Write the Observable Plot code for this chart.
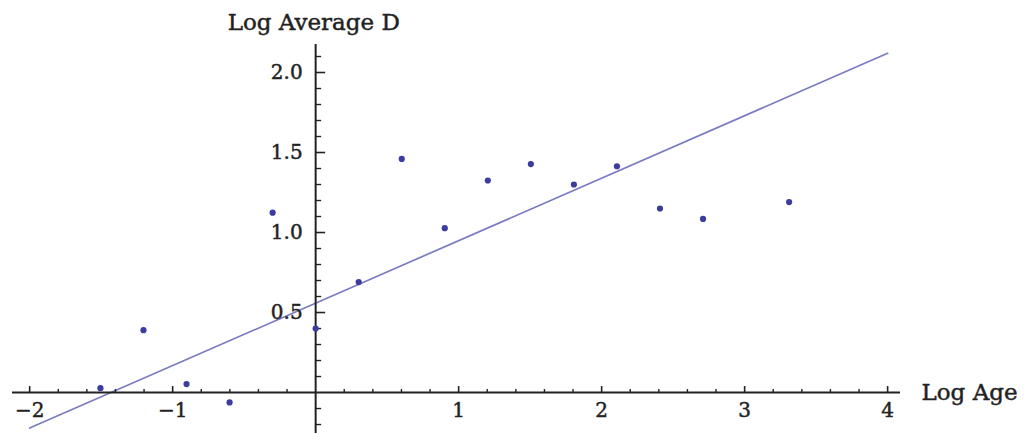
<!DOCTYPE html>
<html>
<head>
<meta charset="utf-8">
<script src="https://cdn.jsdelivr.net/npm/d3@7"></script>
<script src="https://cdn.jsdelivr.net/npm/@observablehq/plot@0.6"></script>
<style>
  html, body { margin: 0; padding: 0; background: #fff; }
  #chart svg { display: block; }
</style>
</head>
<body>
<div id="chart"></div>
<script>
// Data
const logAge = [-1.505, -1.204, -0.903, -0.602, -0.301, 0, 0.301, 0.602, 0.903, 1.204, 1.505, 1.806, 2.107, 2.408, 2.709, 3.311];
const logAvgD = [0.027, 0.39, 0.053, -0.062, 1.124, 0.40, 0.69, 1.46, 1.027, 1.325, 1.428, 1.30, 1.414, 1.15, 1.085, 1.19];
const fitX = [-2, 4];
const fitY = [-0.222, 2.12];

const xMajor = [-2, -1, 1, 2, 3, 4];
const xMajorLabels = ["\u22122", "\u22121", "1", "2", "3", "4"];
const yMajor = [0.5, 1.0, 1.5, 2.0];
const yMajorLabels = ["0.5", "1.0", "1.5", "2.0"];
const xMinor = d3.range(-20, 41, 2).map(v => v / 10).filter(v => !Number.isInteger(v));
const yMinor = d3.range(-2, 22, 1).map(v => v / 10).filter(v => Math.abs(v * 2 - Math.round(v * 2)) > 1e-9);

const points = logAge.map((x, i) => ({x, y: logAvgD[i]}));
const fit = fitX.map((x, i) => ({x, y: fitY[i]}));

const W = 1029, H = 433;
const mL = 12, mR = 129, mT = 44, mB = 0;
const xDom = [-2.12, 4.09], yDom = [-0.256, 2.175];
const kx = (W - mL - mR) / (xDom[1] - xDom[0]);
const ky = (H - mT - mB) / (yDom[1] - yDom[0]);

const font = "DejaVu Serif, Liberation Serif, serif";
const axisColor = "#222";
const textStyle = {fill: axisColor, stroke: axisColor, strokeWidth: 0.45};

const chart = Plot.plot({
  width: W,
  height: H,
  marginLeft: mL,
  marginRight: mR,
  marginTop: mT,
  marginBottom: mB,
  x: {domain: xDom, axis: null},
  y: {domain: yDom, axis: null},
  style: {fontFamily: font, background: "#fff", overflow: "visible"},
  marks: [
    // fit line
    Plot.line(fit, {x: "x", y: "y", stroke: "#7b7bc4", strokeWidth: 1.7}),
    // axes
    Plot.ruleY([0], {x1: xDom[0], x2: xDom[1], stroke: axisColor, strokeWidth: 2}),
    Plot.ruleX([0], {y1: yDom[0], y2: yDom[1], stroke: axisColor, strokeWidth: 2}),
    // x ticks (pointing up)
    Plot.ruleX(xMajor, {x: d => d, y1: 0, y2: 6 / ky, stroke: axisColor, strokeWidth: 1.6}),
    Plot.ruleX(xMinor, {x: d => d, y1: 0, y2: 3 / ky, stroke: axisColor, strokeWidth: 1.4}),
    // y ticks (pointing right)
    Plot.ruleY(yMajor, {y: d => d, x1: 0, x2: 10 / kx, stroke: axisColor, strokeWidth: 1.6}),
    Plot.ruleY(yMinor, {y: d => d, x1: 0, x2: 6 / kx, stroke: axisColor, strokeWidth: 1.4}),
    // tick labels
    Plot.text(xMajor, {x: d => d, y: 0, text: (d, i) => xMajorLabels[i], dy: 18, fontSize: 20, ...textStyle}),
    Plot.text(yMajor, {x: 0, y: d => d, text: (d, i) => yMajorLabels[i], dx: -13, textAnchor: "end", fontSize: 20, ...textStyle}),
    // axis titles
    Plot.text(["Log Average D"], {x: 0, y: yDom[1], text: d => d, dx: -88, dy: -22, textAnchor: "start", fontSize: 23, ...textStyle}),
    Plot.text(["Log Age"], {x: xDom[1], y: 0, text: d => d, dx: 21, textAnchor: "start", fontSize: 23, ...textStyle}),
    // data points
    Plot.dot(points, {x: "x", y: "y", r: 3.1, fill: "#3c3c9e", stroke: "none"})
  ]
});
document.getElementById("chart").appendChild(chart);
</script>
</body>
</html>
